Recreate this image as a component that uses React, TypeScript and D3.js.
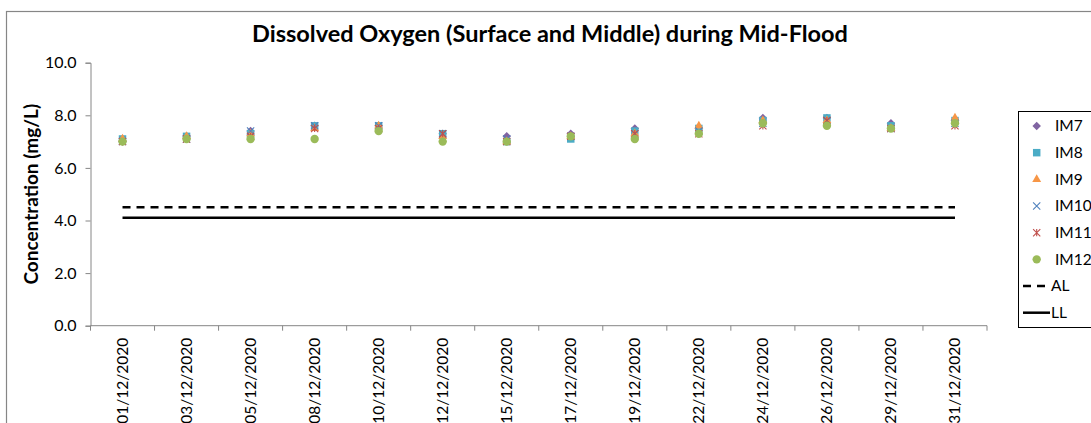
import React, { useEffect, useRef } from 'react';
import * as d3 from 'd3';

const DATES = [
  '01/12/2020', '03/12/2020', '05/12/2020', '08/12/2020', '10/12/2020', '12/12/2020', '15/12/2020',
  '17/12/2020', '19/12/2020', '22/12/2020', '24/12/2020', '26/12/2020', '29/12/2020', '31/12/2020',
];

// DO readings (mg/L) per station
const IM7 = [7.0, 7.2, 7.4, 7.6, 7.6, 7.3, 7.2, 7.3, 7.5, 7.5, 7.9, 7.9, 7.7, 7.8];
const IM8 = [7.1, 7.2, 7.3, 7.6, 7.6, 7.3, 7.0, 7.1, 7.4, 7.5, 7.8, 7.9, 7.6, 7.8];
const IM9 = [7.1, 7.2, 7.3, 7.5, 7.6, 7.2, 7.0, 7.2, 7.3, 7.6, 7.8, 7.8, 7.5, 7.9];
const IM10 = [7.0, 7.1, 7.4, 7.6, 7.6, 7.3, 7.1, 7.2, 7.3, 7.4, 7.7, 7.8, 7.5, 7.7];
const IM11 = [7.0, 7.1, 7.2, 7.5, 7.5, 7.3, 7.0, 7.2, 7.3, 7.3, 7.6, 7.8, 7.5, 7.6];
const IM12 = [7.0, 7.1, 7.1, 7.1, 7.4, 7.0, 7.0, 7.2, 7.1, 7.3, 7.7, 7.6, 7.5, 7.7];

const ACTION_LEVEL = 4.5;
const LIMIT_LEVEL = 4.1;

const Y_TICKS = [0, 2, 4, 6, 8, 10];

const SERIES = [
  { name: 'IM7', values: IM7, color: '#8064A2', shape: 'diamond' },
  { name: 'IM8', values: IM8, color: '#4BACC6', shape: 'square' },
  { name: 'IM9', values: IM9, color: '#F79646', shape: 'triangle' },
  { name: 'IM10', values: IM10, color: '#4F81BD', shape: 'x' },
  { name: 'IM11', values: IM11, color: '#C0504D', shape: 'star' },
  { name: 'IM12', values: IM12, color: '#9BBB59', shape: 'circle' },
];

const FONT = "Lato, 'Open Sans', sans-serif";
const AXIS = '#868686';

// draw one Excel-like marker into a group
function drawMarker(g, shape, color, cx, cy) {
  if (shape === 'diamond') {
    g.append('path')
      .attr('d', d3.symbol(d3.symbolSquare, 36)())
      .attr('transform', `translate(${cx},${cy}) rotate(45)`)
      .attr('fill', color);
  } else if (shape === 'square') {
    g.append('path')
      .attr('d', d3.symbol(d3.symbolSquare, 56)())
      .attr('transform', `translate(${cx},${cy})`)
      .attr('fill', color);
  } else if (shape === 'triangle') {
    g.append('path')
      .attr('d', d3.symbol(d3.symbolTriangle, 34)())
      .attr('transform', `translate(${cx},${cy})`)
      .attr('fill', color);
  } else if (shape === 'circle') {
    g.append('circle').attr('cx', cx).attr('cy', cy).attr('r', 4.2).attr('fill', color);
  } else {
    const r = 3.6;
    const p = d3.path();
    p.moveTo(cx - r, cy - r); p.lineTo(cx + r, cy + r);
    p.moveTo(cx + r, cy - r); p.lineTo(cx - r, cy + r);
    if (shape === 'star') { p.moveTo(cx, cy - r); p.lineTo(cx, cy + r); }
    g.append('path').attr('d', p.toString()).attr('stroke', color).attr('stroke-width', 1.1).attr('fill', 'none');
  }
}

export default function App() {
  const svgRef = useRef(null);

  useEffect(() => {
    const width = 1091;
    const height = 423;
    const svg = d3.select(svgRef.current).attr('width', width).attr('height', height);
    svg.selectAll('*').remove();

    svg.append('rect').attr('width', width).attr('height', height).attr('fill', '#fff');
    // chart area border (cropped on right/bottom)
    svg.append('rect')
      .attr('x', 6.5).attr('y', 11.5).attr('width', 1200).attr('height', 500)
      .attr('fill', 'none').attr('stroke', AXIS).attr('stroke-width', 1.2);

    const x = d3.scaleBand().domain(DATES).range([90.5, 987]).padding(0);
    const y = d3.scaleLinear().domain([0, 10]).range([325.7, 62.7]);
    const cx = (d) => x(d) + x.bandwidth() / 2;

    // title
    svg.append('text')
      .attr('x', 550).attr('y', 42)
      .attr('text-anchor', 'middle')
      .attr('font-family', FONT).attr('font-weight', 'bold').attr('font-size', 23.5)
      .text('Dissolved Oxygen (Surface and Middle) during Mid-Flood');

    // y axis title
    svg.append('text')
      .attr('transform', `translate(31,${(y(0) + y(10)) / 2}) rotate(-90)`)
      .attr('text-anchor', 'middle').attr('dy', '0.35em')
      .attr('font-family', FONT).attr('font-weight', 'bold').attr('font-size', 19)
      .text('Concentration (mg/L)');

    // y axis
    const yAxis = svg.append('g')
      .attr('transform', `translate(${x.range()[0]},0)`)
      .call(d3.axisLeft(y).tickValues(Y_TICKS).tickSize(5).tickPadding(9).tickFormat(d3.format('.1f')));
    yAxis.selectAll('text').attr('font-family', FONT).attr('font-size', 16).attr('fill', '#000');

    // x axis: ticks between categories
    const xAxis = svg.append('g').attr('transform', `translate(0,${y(0)})`);
    xAxis.append('line')
      .attr('x1', x.range()[0]).attr('x2', x.range()[1])
      .attr('stroke', AXIS);
    const bounds = DATES.map((d) => x(d)).concat([x.range()[1]]);
    xAxis.selectAll('line.tick')
      .data(bounds)
      .join('line')
      .attr('class', 'tick')
      .attr('x1', (d) => d).attr('x2', (d) => d)
      .attr('y1', 0).attr('y2', 5)
      .attr('stroke', AXIS);
    xAxis.selectAll('text')
      .data(DATES)
      .join('text')
      .attr('transform', (d) => `translate(${cx(d)},12) rotate(-90)`)
      .attr('text-anchor', 'end').attr('dy', '0.35em')
      .attr('font-family', FONT).attr('font-size', 15.5)
      .text((d) => d);

    yAxis.selectAll('.domain, .tick line').attr('stroke', AXIS);

    // AL / LL lines
    const levelLine = d3.line().x((d) => cx(d[0])).y((d) => y(d[1]));
    svg.append('path')
      .attr('d', levelLine(DATES.map((d) => [d, ACTION_LEVEL])))
      .attr('fill', 'none').attr('stroke', '#000').attr('stroke-width', 2.5)
      .attr('stroke-dasharray', '8,6');
    svg.append('path')
      .attr('d', levelLine(DATES.map((d) => [d, LIMIT_LEVEL])))
      .attr('fill', 'none').attr('stroke', '#000').attr('stroke-width', 2.5);

    // markers
    SERIES.forEach((s) => {
      const g = svg.append('g');
      s.values.forEach((v, i) => drawMarker(g, s.shape, s.color, cx(DATES[i]), y(v)));
    });

    // legend
    const lg = svg.append('g');
    lg.append('rect')
      .attr('x', 1018.5).attr('y', 111.5).attr('width', 120).attr('height', 216)
      .attr('fill', '#fff').attr('stroke', '#000');
    const items = SERIES.map((s) => s.name).concat(['AL', 'LL']);
    const ly = d3.scalePoint().domain(items).range([126, 312.7]);
    SERIES.forEach((s) => {
      drawMarker(lg, s.shape, s.color, 1036.7, ly(s.name));
      lg.append('text')
        .attr('x', 1055).attr('y', ly(s.name)).attr('dy', '0.35em')
        .attr('font-family', FONT).attr('font-size', 15.5)
        .text(s.name);
    });
    [['AL', '8,6'], ['LL', null]].forEach(([name, dash]) => {
      lg.append('line')
        .attr('x1', 1023).attr('x2', 1050)
        .attr('y1', ly(name)).attr('y2', ly(name))
        .attr('stroke', '#000').attr('stroke-width', 2.5)
        .attr('stroke-dasharray', dash);
      lg.append('text')
        .attr('x', 1051).attr('y', ly(name)).attr('dy', '0.35em')
        .attr('font-family', FONT).attr('font-size', 15.5)
        .text(name);
    });
  }, []);

  return (
    <div style={{ position: 'absolute', left: 0, top: 0 }}>
      <svg ref={svgRef} style={{ display: 'block' }} />
    </div>
  );
}
